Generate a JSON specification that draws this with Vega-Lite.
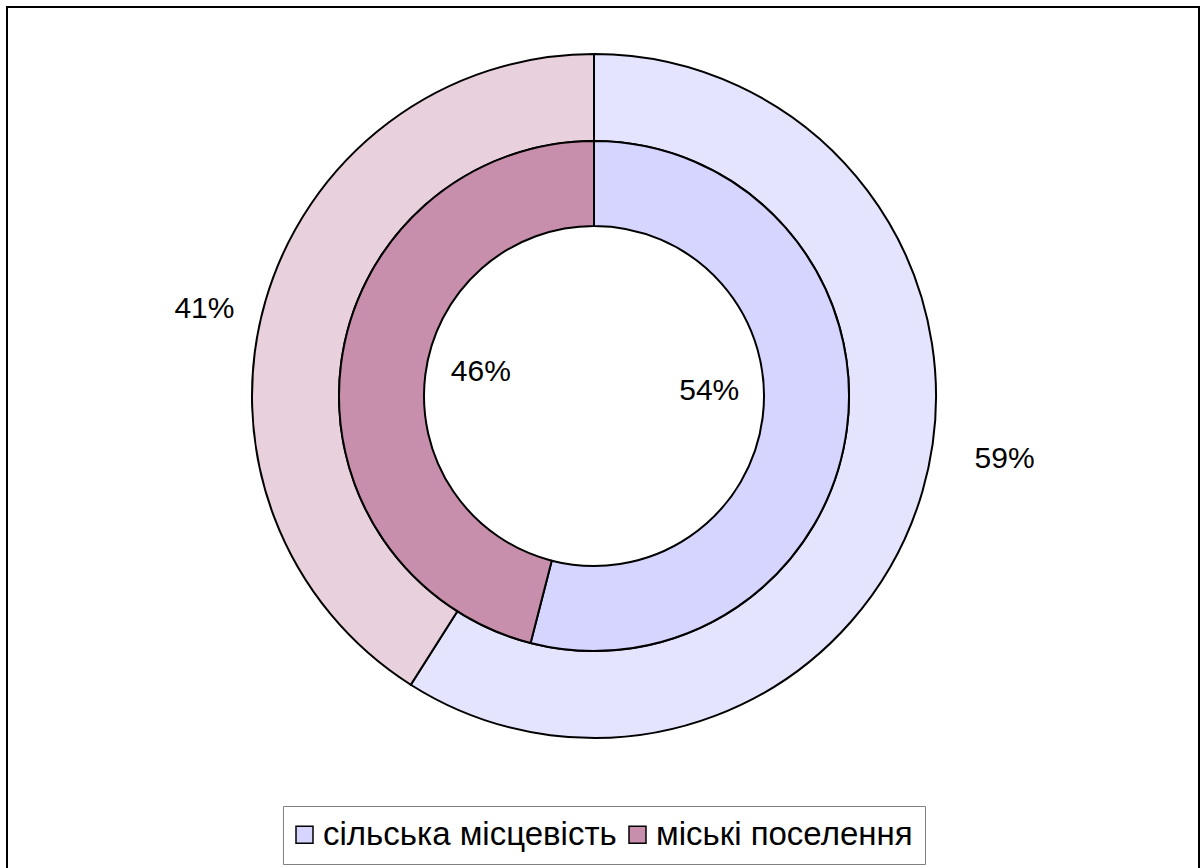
{
  "$schema": "https://vega.github.io/schema/vega-lite/v6.json",
  "width": 1192,
  "height": 870,
  "autosize": "none",
  "padding": {"left": 7, "top": 7, "right": 5, "bottom": 0},
  "background": "white",
  "config": {"view": {"stroke": null}, "font": "Liberation Sans"},
  "data": {
    "values": [
      {"ring": "outer", "category": "сільська місцевість", "share": 0.59},
      {"ring": "outer", "category": "міські поселення", "share": 0.41},
      {"ring": "inner", "category": "сільська місцевість", "share": 0.54},
      {"ring": "inner", "category": "міські поселення", "share": 0.46}
    ]
  },
  "layer": [
    {
      "data": {"values": [{"frame": 1}]},
      "mark": {"type": "rect", "fill": null, "stroke": "black", "strokeWidth": 2},
      "encoding": {}
    },
    {
      "transform": [{"filter": "datum.ring === 'outer'"}],
      "mark": {"type": "arc", "outerRadius": 342, "innerRadius": 255, "stroke": "black", "strokeWidth": 2, "x": {"expr": "width/2 - 9"}, "y": {"expr": "height/2 - 46"}},
      "encoding": {
        "theta": {"field": "share", "type": "quantitative", "stack": true},
        "order": {"field": "category", "sort": "descending"},
        "fill": {"field": "category", "type": "nominal", "scale": {"domain": ["міські поселення", "сільська місцевість"], "range": ["#E8D0DC", "#E4E4FF"]}, "legend": null}
      }
    },
    {
      "transform": [{"filter": "datum.ring === 'inner'"}],
      "mark": {"type": "arc", "outerRadius": 255, "innerRadius": 170, "stroke": "black", "strokeWidth": 2, "x": {"expr": "width/2 - 9"}, "y": {"expr": "height/2 - 46"}},
      "encoding": {
        "theta": {"field": "share", "type": "quantitative", "stack": true},
        "order": {"field": "category", "sort": "descending"},
        "color": {
          "field": "category", "type": "nominal",
          "scale": {"domain": ["сільська місцевість", "міські поселення"], "range": ["#D5D5FF", "#C78FAB"]},
          "legend": {
            "title": null, "orient": "none", "legendX": 276, "legendY": 799, "direction": "horizontal",
            "strokeColor": "#808080", "padding": 12, "labelFontSize": 33, "labelFont": "Liberation Sans", "labelColor": "black",
            "symbolType": "square", "symbolSize": 289, "symbolStrokeColor": "black", "symbolStrokeWidth": 1.5, "symbolOpacity": 1,
            "symbolOffset": -7, "columnPadding": 9, "labelOffset": 2, "labelLimit": 400
          }
        }
      }
    },
    {
      "transform": [{"filter": "datum.ring === 'outer'"}],
      "mark": {"type": "text", "radius": 407, "thetaOffset": -0.098, "fontSize": 30, "font": "Liberation Sans", "color": "black", "x": {"expr": "width/2 + 1.5"}, "y": {"expr": "height/2 - 58"}},
      "encoding": {
        "theta": {"field": "share", "type": "quantitative", "stack": true},
        "order": {"field": "category", "sort": "descending"},
        "detail": {"field": "category", "type": "nominal"},
        "text": {"field": "share", "type": "quantitative", "format": ".0%"}
      }
    },
    {
      "transform": [{"filter": "datum.ring === 'inner'"}],
      "mark": {"type": "text", "radius": 114.6, "thetaOffset": -0.043, "fontSize": 30, "font": "Liberation Sans", "color": "black", "x": {"expr": "width/2 - 8"}, "y": {"expr": "height/2 - 60.5"}},
      "encoding": {
        "theta": {"field": "share", "type": "quantitative", "stack": true},
        "order": {"field": "category", "sort": "descending"},
        "detail": {"field": "category", "type": "nominal"},
        "text": {"field": "share", "type": "quantitative", "format": ".0%"}
      }
    }
  ]
}
